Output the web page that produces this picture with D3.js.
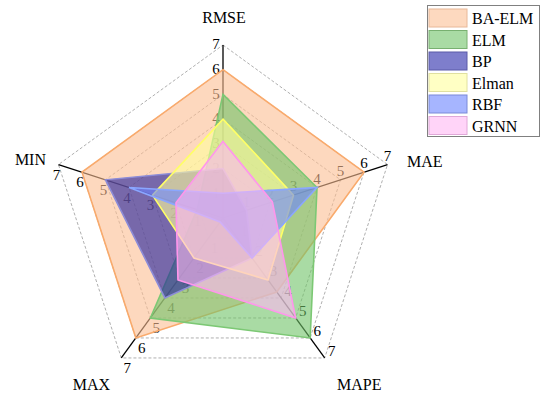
<!DOCTYPE html>
<html>
<head>
<meta charset="utf-8">
<script src="https://cdn.jsdelivr.net/npm/d3@7"></script>
<style>
  body { margin: 0; background: #fff; }
</style>
</head>
<body>
<div id="radar"></div>
<script>
var width = 550,
    height = 401,
    cx = 223,
    cy = 218,
    radius = 173,
    serif = "Liberation Serif";

// axes and tick values
var axes = ["RMSE", "MAE", "MAPE", "MAX", "MIN"];
var ticks = [1, 2, 3, 4, 5, 6, 7];

// series (values per axis, same order as axes)
var names = ["BA-ELM", "ELM", "BP", "Elman", "RBF", "GRNN"];
var baElm = [6, 6, 3.7, 6, 6];
var elm   = [5, 4, 6, 5, 1.1];
var bp    = [2, 1, 2, 4, 5];
var elman = [4, 3, 3.1, 2, 3];
var rbf   = [1, 4, 2, 0.2, 4];
var grnn  = [3.1, 2.1, 5, 3.1, 2];
var series = [baElm, elm, bp, elman, rbf, grnn];

var fills   = ["#fcbe93", "#70c367", "#1e1e9c", "#ffff9d", "#6b84ff", "#ffb7f3"];
var strokes = ["#f9aa6c", "#7cc874", "#8c8cd8", "#ffff66", "#8aa6ff", "#ff96ec"];
var swatch  = ["#fdd9bf", "#a9dba4", "#7e7ecc", "#ffffc4", "#a6b5ff", "#ffd4f8"];
var swatchEdge = ["#e8b898", "#78b070", "#5a5aa8", "#e0e0a0", "#7a8ad8", "#e0a8d8"];

// tick label offsets for each axis
var labelOffset = [[-7, -1], [0, -9], [7, -7], [6, 10], [-2, 10]];

var r = d3.scaleLinear().domain([0, 7]).range([0, radius]);
var angle = d3.scaleLinear().domain([0, axes.length]).range([0, 2 * Math.PI]);

function pt(i, v) {
    var a = angle(i);
    return [cx + r(v) * Math.sin(a), cy - r(v) * Math.cos(a)];
}

var svg = d3.select("#radar")
    .append("svg")
    .attr("width", width)
    .attr("height", height)
    .style("font-family", serif);

var radial = d3.lineRadial()
    .angle(function (d, i) { return angle(i); })
    .radius(function (d) { return r(d); })
    .curve(d3.curveLinearClosed);

var gridLayer = svg.append("g").attr("transform", "translate(" + cx + "," + cy + ")");
var axisLayer = svg.append("g");
var seriesLayer = svg.append("g").attr("transform", "translate(" + cx + "," + cy + ")");

// grid pentagons
gridLayer.selectAll(".grid")
    .data(ticks)
    .enter()
    .append("path")
    .attr("class", "grid")
    .attr("d", function (t) { return radial(axes.map(function () { return t; })); })
    .attr("fill", "none")
    .attr("stroke", "#9a9a9a")
    .attr("stroke-width", 0.8)
    .attr("stroke-dasharray", "3,2");

// axis lines and tick labels
axes.forEach(function (a, i) {
    var p = pt(i, 7);
    axisLayer.append("line")
        .attr("x1", cx).attr("y1", cy)
        .attr("x2", p[0]).attr("y2", p[1])
        .attr("stroke", "#000")
        .attr("stroke-width", 1.3);

    ticks.forEach(function (t) {
        var q = pt(i, t);
        axisLayer.append("text")
            .attr("x", q[0] + labelOffset[i][0])
            .attr("y", q[1] + labelOffset[i][1])
            .attr("dy", "0.35em")
            .attr("text-anchor", "middle")
            .style("font-family", serif)
            .attr("font-size", 15)
            .attr("fill", "#000")
            .text(t);
    });
});

// series polygons
seriesLayer.selectAll(".series")
    .data(series)
    .enter()
    .append("path")
    .attr("class", "series")
    .attr("d", radial)
    .attr("fill", function (d, i) { return fills[i]; })
    .attr("fill-opacity", 0.6)
    .attr("stroke", function (d, i) { return strokes[i]; })
    .attr("stroke-width", 1.6)
    .attr("stroke-linejoin", "miter");

// axis titles
var titles = [
    { x: 224, y: 23, anchor: "middle" },
    { x: 407, y: 167, anchor: "start" },
    { x: 337, y: 390, anchor: "start" },
    { x: 110, y: 390, anchor: "end" },
    { x: 46, y: 165, anchor: "end" }
];
axes.forEach(function (a, i) {
    svg.append("text")
        .attr("x", titles[i].x)
        .attr("y", titles[i].y)
        .attr("text-anchor", titles[i].anchor)
        .style("font-family", serif)
        .attr("font-size", 16)
        .text(a);
});

// legend
var legend = svg.append("g");
legend.append("rect")
    .attr("x", 427.5).attr("y", 5.5)
    .attr("width", 112).attr("height", 131)
    .attr("fill", "#fff")
    .attr("stroke", "#808080")
    .attr("stroke-width", 1);

var item = legend.selectAll(".item")
    .data(names)
    .enter()
    .append("g")
    .attr("class", "item")
    .attr("transform", function (d, i) { return "translate(0," + (9 + i * 21.5) + ")"; });

item.append("rect")
    .attr("x", 429).attr("y", 0)
    .attr("width", 38).attr("height", 18)
    .attr("fill", function (d, i) { return swatch[i]; })
    .attr("stroke", function (d, i) { return swatchEdge[i]; })
    .attr("stroke-width", 1);

item.append("text")
    .attr("x", 472)
    .attr("y", 15)
    .style("font-family", serif)
    .attr("font-size", 16)
    .text(function (d) { return d; });
</script>
</body>
</html>
